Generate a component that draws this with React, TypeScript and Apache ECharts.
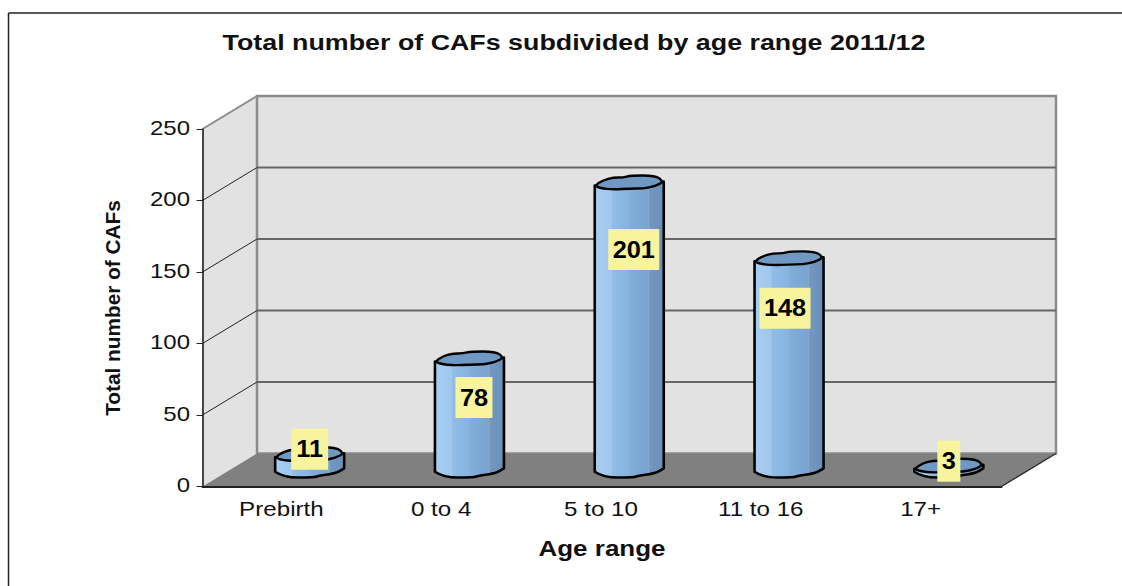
import React, { useEffect, useRef } from "react";
import * as echarts from "echarts";

const chartTitle = "Total number of CAFs subdivided by age range 2011/12";
const xAxisTitle = "Age range";
const yAxisTitle = "Total number of CAFs";
const categories = ["Prebirth", "0 to 4", "5 to 10", "11 to 16", "17+"];
const cafCounts = [11, 78, 201, 148, 3];
const yTicks = [0, 50, 100, 150, 200, 250];

const FONT = '"Liberation Sans", Arial, sans-serif';
const WIDE = 1.22; // horizontal stretch of the lettering
const DEPTH_X = 54.5; // floor depth of the 3-D box
const DEPTH_Y = 33;

// Nudges of the value tags from the centre of each cylinder's top.
const tagNudge: [number, number][] = [
  [0, -5],
  [4.5, 39],
  [4.5, 67],
  [-4, 50],
  [0, -4.5],
];

// Hand-drawn outlines of the cylinder caps, relative to the cap centre.
const capOutline: [number, number][] = [
  [-34.5, 3], [-26, -2.5], [-16, -5], [-6, -5], [1, -7], [26, -7],
  [34.5, -1], [26, 3.5], [14, 6], [1, 6], [-16, 7], [-29, 5.5],
];
const baseOutline: [number, number][] = [
  [-34.5, 1.7], [-26, 7.5], [4, 7.5], [10, 5.5], [26, 3.5], [34.5, -1.7],
];

function closedCurve(pts: [number, number][]) {
  const mid = (a: [number, number], b: [number, number]) => [(a[0] + b[0]) / 2, (a[1] + b[1]) / 2];
  const start = mid(pts[pts.length - 1], pts[0]);
  let d = `M${start[0]} ${start[1]}`;
  pts.forEach((p, i) => {
    const m = mid(p, pts[(i + 1) % pts.length]);
    d += `Q${p[0]} ${p[1]} ${m[0]} ${m[1]}`;
  });
  return d + "Z";
}

function bodyPath(cx: number, top: number, base: number) {
  const b = baseOutline.map(([x, y]) => [cx + x, base + y]);
  let d = `M${cx + capOutline[0][0]} ${top + capOutline[0][1]}L${b[0][0]} ${b[0][1]}`;
  for (let i = 1; i < b.length - 1; i++) {
    const nx = (b[i][0] + b[i + 1][0]) / 2;
    const ny = (b[i][1] + b[i + 1][1]) / 2;
    d += `Q${b[i][0]} ${b[i][1]} ${nx} ${ny}`;
  }
  const last = b[b.length - 1];
  d += `L${last[0]} ${last[1]}L${cx + capOutline[6][0]} ${top + capOutline[6][1]}Z`;
  return d;
}

const cylinderFill = new echarts.graphic.LinearGradient(0, 0, 1, 0, [
  { offset: 0, color: "#a7cef1" },
  { offset: 0.24, color: "#a0c8ee" },
  { offset: 0.25, color: "#93bde8" },
  { offset: 0.5, color: "#85b2e0" },
  { offset: 0.52, color: "#80add9" },
  { offset: 0.76, color: "#79a4d0" },
  { offset: 0.78, color: "#88a9c9" },
  { offset: 0.8, color: "#7298c2" },
  { offset: 1, color: "#6a90b8" },
]);

const App = () => {
  const ref = useRef<HTMLDivElement>(null);
  useEffect(() => {
    const chart = echarts.init(ref.current!, undefined, { renderer: "svg" });
    chart.setOption({
      animation: false,
      backgroundColor: "#ffffff",
      graphic: [
        { type: "line", silent: true, shape: { x1: 8.5, y1: 13, x2: 1122, y2: 13 }, style: { stroke: "#222", lineWidth: 1.5 } },
        { type: "line", silent: true, shape: { x1: 8.5, y1: 13, x2: 8.5, y2: 586 }, style: { stroke: "#222", lineWidth: 1.5 } },
        {
          type: "text", x: 574, y: 42, scaleX: WIDE, silent: true,
          style: { text: chartTitle, x: 0, y: 0, align: "center", verticalAlign: "middle", fontFamily: FONT, fontSize: 22, fontWeight: "bold", fill: "#111" },
        },
        {
          type: "text", x: 602, y: 548, scaleX: WIDE, silent: true,
          style: { text: xAxisTitle, x: 0, y: 0, align: "center", verticalAlign: "middle", fontFamily: FONT, fontSize: 21.3, fontWeight: "bold", fill: "#111" },
        },
        {
          type: "text", x: 112, y: 308, rotation: Math.PI / 2, silent: true,
          style: { text: yAxisTitle, x: 0, y: 0, align: "center", verticalAlign: "middle", fontFamily: FONT, fontSize: 20.8, fontWeight: "bold", fill: "#111" },
        },
      ],
      grid: { left: 202.5, width: 799, top: 129, height: 357.5, containLabel: false },
      xAxis: {
        type: "category",
        data: categories,
        z: 3,
        axisLine: { lineStyle: { color: "#222", width: 2 } },
        axisTick: { length: 5, lineStyle: { color: "#333", width: 1 } },
        axisLabel: { show: false },
        splitLine: { show: false },
      },
      yAxis: {
        type: "value",
        min: 0,
        max: 250,
        interval: 50,
        z: 3,
        axisLine: { show: true, lineStyle: { color: "#111", width: 1.5 } },
        axisTick: { show: true, length: 6, lineStyle: { color: "#222", width: 1 } },
        axisLabel: { show: false },
        splitLine: { show: false },
      },
      series: [
        {
          // Walls and floor of the 3-D box.
          type: "custom",
          z: 1,
          silent: true,
          clip: false,
          data: [[0, 0]],
          renderItem: (params: any) => {
            const { x, y, width: w, height: h } = params.coordSys;
            const [dx, dy] = [DEPTH_X, DEPTH_Y];
            const b = y + h;
            return {
              type: "group",
              children: [
                {
                  type: "polygon",
                  shape: { points: [[x, b], [x + dx, b - dy], [x + dx, y - dy], [x, y]] },
                  style: { fill: "#e2e2e2", stroke: "none" },
                },
                {
                  type: "rect",
                  shape: { x: x + dx, y: y - dy, width: w, height: h },
                  style: { fill: "#e2e2e2", stroke: "#8c8c8c", lineWidth: 2.5 },
                },
                {
                  type: "line",
                  shape: { x1: x, y1: y, x2: x + dx, y2: y - dy },
                  style: { stroke: "#8c8c8c", lineWidth: 2 },
                },
                {
                  type: "polygon",
                  shape: { points: [[x, b], [x + w, b], [x + w + dx, b - dy], [x + dx, b - dy]] },
                  style: { fill: "#808080", stroke: "none" },
                },
                {
                  type: "line",
                  shape: { x1: x + w, y1: b, x2: x + w + dx, y2: b - dy },
                  style: { stroke: "#222", lineWidth: 1.2 },
                },
              ],
            };
          },
        },
        {
          // Gridlines wrapped over the side and back walls.
          type: "custom",
          z: 2,
          silent: true,
          clip: false,
          data: yTicks.filter((t) => t > 0 && t < 250).map((t) => [0, t]),
          renderItem: (params: any, api: any) => {
            const yy = api.coord([0, api.value(1)])[1];
            const { x, width: w } = params.coordSys;
            return {
              type: "group",
              children: [
                {
                  type: "line",
                  shape: { x1: x, y1: yy, x2: x + DEPTH_X, y2: yy - DEPTH_Y },
                  style: { stroke: "#222", lineWidth: 1 },
                },
                {
                  type: "line",
                  shape: { x1: x + DEPTH_X, y1: yy - DEPTH_Y, x2: x + DEPTH_X + w, y2: yy - DEPTH_Y },
                  style: { stroke: "#666", lineWidth: 2 },
                },
              ],
            };
          },
        },
        {
          // Value axis tick labels.
          type: "custom",
          z: 3,
          silent: true,
          clip: false,
          data: yTicks.map((t) => [0, t]),
          renderItem: (params: any, api: any) => {
            const v = api.value(1);
            return {
              type: "text",
              x: 190,
              y: api.coord([0, v])[1] - 1,
              scaleX: 1.2,
              style: { text: String(v), x: 0, y: 0, align: "right", verticalAlign: "middle", fontFamily: FONT, fontSize: 20, fill: "#111" },
            };
          },
        },
        {
          // Category axis labels.
          type: "custom",
          z: 3,
          silent: true,
          clip: false,
          data: categories.map((_, i) => [i, 0]),
          renderItem: (params: any, api: any) => {
            const i = api.value(0);
            const p = api.coord([i, 0]);
            return {
              type: "text",
              x: p[0] - 1,
              y: p[1] + 22.5,
              scaleX: 1.22,
              style: { text: categories[i], x: 0, y: 0, align: "center", verticalAlign: "middle", fontFamily: FONT, fontSize: 19.8, fill: "#111" },
            };
          },
        },
        {
          // Cylinders standing at the middle of the floor's depth.
          type: "custom",
          z: 4,
          silent: true,
          clip: false,
          data: cafCounts.map((v, i) => [i, v]),
          renderItem: (params: any, api: any) => {
            const i = api.value(0);
            const v = api.value(1);
            const cx = api.coord([i, 0])[0] + DEPTH_X / 2;
            const base = api.coord([i, 0])[1] - DEPTH_Y / 2;
            const top = api.coord([i, v])[1] - DEPTH_Y / 2;
            return {
              type: "group",
              children: [
                {
                  type: "path",
                  shape: { pathData: bodyPath(cx, top, base) },
                  style: { fill: cylinderFill, stroke: "#000", lineWidth: 2.6, lineJoin: "round" },
                },
                {
                  type: "path",
                  shape: { pathData: closedCurve(capOutline.map(([a, c]) => [cx + a, top + c] as [number, number])) },
                  style: { fill: "#6f98c2", stroke: "#000", lineWidth: 2.4, lineJoin: "round" },
                },
              ],
            };
          },
        },
        {
          // Yellow value tags.
          type: "custom",
          z: 5,
          silent: true,
          clip: false,
          data: cafCounts.map((v, i) => [i, v]),
          renderItem: (params: any, api: any) => {
            const i = api.value(0);
            const v = api.value(1);
            const cx = api.coord([i, 0])[0] + DEPTH_X / 2 + tagNudge[i][0];
            const cy = api.coord([i, v])[1] - DEPTH_Y / 2 + tagNudge[i][1];
            const text = String(v);
            const bw = text.length * 14 + 9;
            return {
              type: "group",
              children: [
                {
                  type: "rect",
                  shape: { x: cx - bw / 2, y: cy - 20.5, width: bw, height: 41 },
                  style: { fill: "#f7f49d", stroke: "none" },
                },
                {
                  type: "text",
                  x: cx,
                  y: cy,
                  scaleX: 1.1,
                  style: { text, x: 0, y: 0, align: "center", verticalAlign: "middle", fontFamily: FONT, fontSize: 23, fontWeight: "bold", fill: "#000" },
                },
              ],
            };
          },
        },
      ],
    });
    return () => chart.dispose();
  }, []);
  return <div ref={ref} style={{ position: "fixed", left: 0, top: 0, width: 1122, height: 586 }} />;
};

export default App;
